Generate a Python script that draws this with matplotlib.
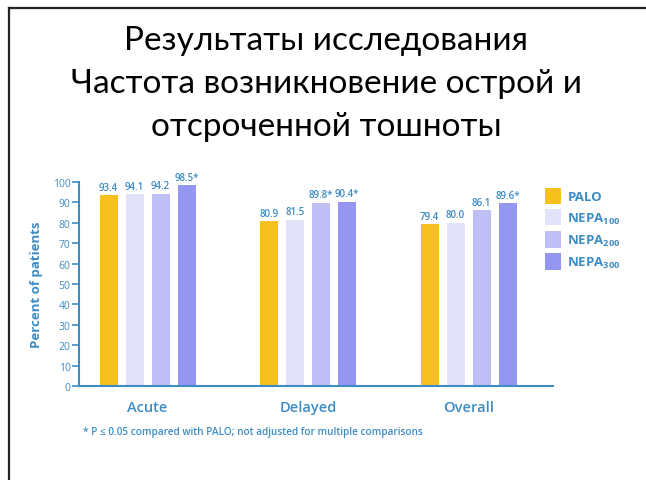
import numpy as np
import matplotlib.pyplot as plt
from matplotlib.lines import Line2D

# данные по группам
categories = ["Acute", "Delayed", "Overall"]
series_names = ["PALO", r"NEPA$_{\mathregular{100}}$", r"NEPA$_{\mathregular{200}}$", r"NEPA$_{\mathregular{300}}$"]
palo = [93.4, 80.9, 79.4]
nepa100 = [94.1, 81.5, 80.0]
nepa200 = [94.2, 89.8, 86.1]
nepa300 = [98.5, 90.4, 89.6]
# значимые отличия от PALO помечаются звёздочкой
signif = [
    [False, False, False],
    [False, False, False],
    [False, True, False],
    [True, True, True],
]

colors = ["#F6C020", "#E2E2F8", "#BFBFF6", "#9595F2"]
blue = "#3E8CC4"

plt.rcParams['font.family'] = ['Open Sans', 'DejaVu Sans']
plt.rcParams['mathtext.fontset'] = 'custom'
plt.rcParams['mathtext.rm'] = 'Open Sans:bold'

fig = plt.figure(figsize=(6.46, 4.81), dpi=100)

# заголовок
title_lines = ["Результаты исследования",
               "Частота возникновение острой и",
               "отсроченной тошноты"]
for i, line in enumerate(title_lines):
    fig.text(0.505, 1 - (41 + i * 43) / 481, line, ha="center", va="center",
             fontsize=24, family=["Lato", "DejaVu Sans"], color="black")

ax = fig.add_axes([79 / 646, 1 - 387 / 481, (553 - 79) / 646, (387 - 183) / 481])

x = np.arange(len(categories))
width = 0.112
step = 0.162
all_vals = [palo, nepa100, nepa200, nepa300]
for i, vals in enumerate(all_vals):
    pos = x + (i - 1.5) * step
    ax.bar(pos, vals, width, color=colors[i], label=series_names[i])
    for j, v in enumerate(vals):
        txt = f"{v:.1f}" + ("*" if signif[i][j] else "")
        ax.text(pos[j], v + 1.2, txt, ha="center", va="bottom", fontsize=7,
                color=blue, fontweight="semibold")

ax.set_ylim(0, 100)
ax.set_xlim(-0.427, 2.526)
ax.set_yticks(range(0, 101, 10))
ax.set_xticks(x)
ax.set_xticklabels(categories, fontsize=10.5, color=blue, fontweight="semibold")
ax.tick_params(axis="x", length=0, pad=10)
ax.tick_params(axis="y", colors=blue, labelsize=7.5, length=5, width=1.2, pad=1)
for side in ["top", "right"]:
    ax.spines[side].set_visible(False)
for side in ["left", "bottom"]:
    ax.spines[side].set_color(blue)
    ax.spines[side].set_linewidth(1.5)
ax.set_ylabel("Percent of patients", color=blue, fontsize=9.5, fontweight="bold")
ax.yaxis.set_label_coords(-0.077, 0.5)

leg = ax.legend(loc="upper left", bbox_to_anchor=(1.0 - 20 / 474, 1.03), frameon=False,
                handlelength=1.25, handleheight=1.5, handletextpad=0.45, labelspacing=0.42,
                fontsize=9.5)
for t in leg.get_texts():
    t.set_color(blue)
    t.set_fontweight("bold")

fig.text(83 / 646, 1 - 433 / 481, "* P ≤ 0.05 compared with PALO; not adjusted for multiple comparisons",
         fontsize=7.2, color=blue, va="center", fontweight="semibold")

# рамка слева и сверху
fig.add_artist(Line2D([9 / 646, 9 / 646], [0, 1 - 9 / 481], transform=fig.transFigure, color="#222222", lw=1.6))
fig.add_artist(Line2D([9 / 646, 1], [1 - 9 / 481, 1 - 9 / 481], transform=fig.transFigure, color="#222222", lw=1.6))

plt.savefig("out.png", dpi=100)
